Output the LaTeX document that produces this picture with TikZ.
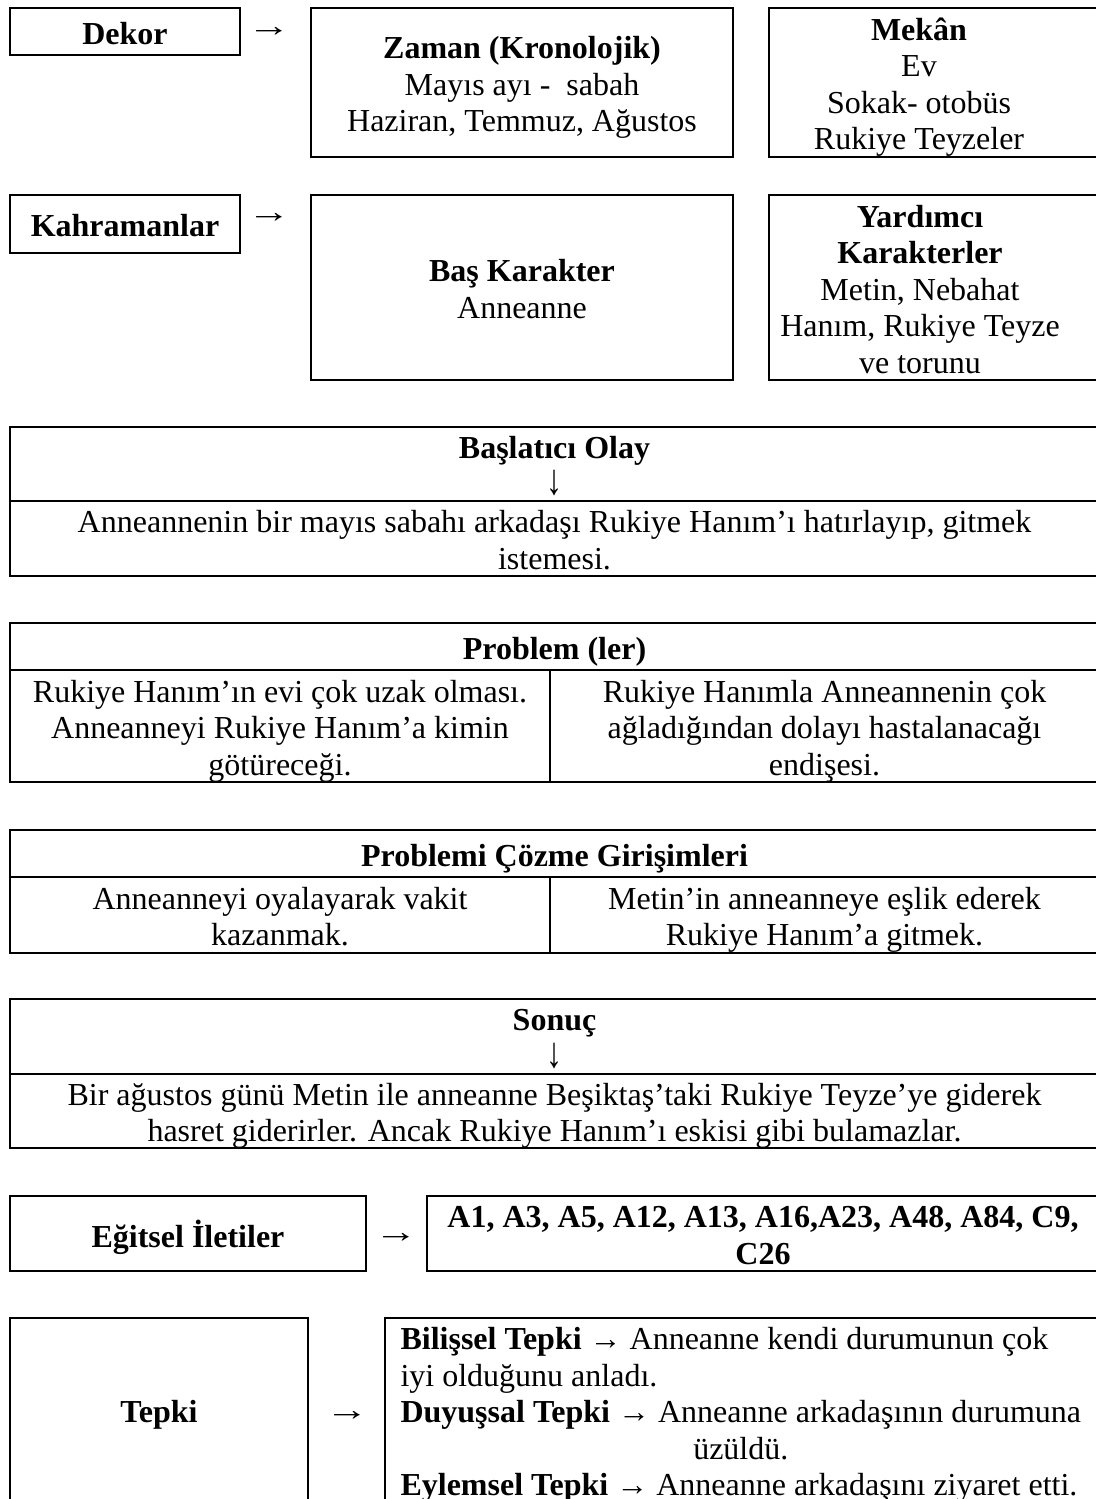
\documentclass[tikz,border=0pt]{standalone}
\usepackage{fontspec}
\setmainfont{Liberation Serif}
\newcommand{\tbc}[1]{\raisebox{-2pt}[\height][\depth]{\begin{tabular}{@{}c@{}}#1\end{tabular}}}
\newcommand{\rarr}{\scalebox{1.35}[1]{→}}
\newcommand{\darr}{\scalebox{1}[1.35]{↓}}
\begin{document}
\begin{tikzpicture}[x=0.375pt, y=-0.375pt,
  txt/.style={inner sep=0pt, font=\fontsize{12}{13.7}\selectfont},
  cell/.style={txt, draw, line width=0.65pt, rectangle},
  sz/.style 2 args={minimum width=#1*0.375pt, minimum height=#2*0.375pt},
  glyph/.style={inner sep=0pt, font=\fontsize{12}{13.7}\selectfont}]
\clip (0,0) rectangle (1096,1499);

% Row 1: Dekor
\node[cell, sz={230}{47}] (dekor) at (125,31.5) {\tbc{\textbf{Dekor}}};
\node[glyph] (ar1) at (269,32) {\rarr};
\node[cell, sz={422}{149}] (zaman) at (522,82.5)
  {\tbc{\textbf{Zaman (Kronolojik)}\\ Mayıs ayı - \ sabah\\ Haziran, Temmuz, Ağustos}};
\node[cell, sz={330}{149}] (mekan) at (934,82.5) {};
\node[txt] (mekantxt) at (919,82.5)
  {\tbc{\textbf{Mekân}\\ Ev\\ Sokak- otobüs\\ Rukiye Teyzeler}};

% Row 2: Kahramanlar
\node[cell, sz={230}{58}] (kahr) at (125,224) {\tbc{\textbf{Kahramanlar}}};
\node[glyph] (ar2) at (269,218) {\rarr};
\node[cell, sz={422}{185}] (bas) at (522,287.5) {\tbc{\textbf{Baş Karakter}\\ Anneanne}};
\node[cell, sz={330}{185}] (yard) at (934,287.5) {};
\node[txt] (yardtxt) at (920,287.5)
  {\tbc{\textbf{Yardımcı}\\ \textbf{Karakterler}\\ Metin, Nebahat\\ Hanım, Rukiye Teyze\\ ve torunu}};

% Başlatıcı Olay
\node[cell, sz={1089}{74}] (baslat) at (554.5,464) {\tbc{\textbf{Başlatıcı Olay}\\ \darr}};
\node[cell, sz={1089}{75}] (baslatb) at (554.5,538.5)
  {\tbc{Anneannenin bir mayıs sabahı arkadaşı Rukiye Hanım’ı hatırlayıp, gitmek\\ istemesi.}};

% Problem (ler)
\node[cell, sz={1089}{47}] (prob) at (554.5,646.5) {\tbc{\textbf{Problem (ler)}}};
\node[cell, sz={540}{112}] (probl) at (280,726)
  {\tbc{Rukiye Hanım’ın evi çok uzak olması.\\ Anneanneyi Rukiye Hanım’a kimin\\ götüreceği.}};
\node[cell, sz={549}{112}] (probr) at (824.5,726)
  {\tbc{Rukiye Hanımla Anneannenin çok\\ ağladığından dolayı hastalanacağı\\ endişesi.}};

% Problemi Çözme Girişimleri
\node[cell, sz={1089}{47}] (coz) at (554.5,853.5) {\tbc{\textbf{Problemi Çözme Girişimleri}}};
\node[cell, sz={540}{76}] (cozl) at (280,915)
  {\tbc{Anneanneyi oyalayarak vakit\\ kazanmak.}};
\node[cell, sz={549}{76}] (cozr) at (824.5,915)
  {\tbc{Metin’in anneanneye eşlik ederek\\ Rukiye Hanım’a gitmek.}};

% Sonuç
\node[cell, sz={1089}{75}] (sonuc) at (554.5,1036.5) {\tbc{\textbf{Sonuç}\\ \darr}};
\node[cell, sz={1089}{74}] (sonucb) at (554.5,1111)
  {\tbc{Bir ağustos günü Metin ile anneanne Beşiktaş’taki Rukiye Teyze’ye giderek\\
   hasret giderirler. Ancak Rukiye Hanım’ı eskisi gibi bulamazlar.}};

% Eğitsel İletiler
\node[cell, sz={356}{75}] (egit) at (188,1233.5) {\tbc{\textbf{Eğitsel İletiler}}};
\node[glyph] (ar3) at (396,1238) {\rarr};
\node[cell, sz={672}{75}] (kod) at (763,1233.5)
  {\tbc{\textbf{A1, A3, A5, A12, A13, A16,A23, A48, A84, C9,}\\ \textbf{C26}}};

% Tepki
\node[cell, sz={298}{184}] (tepki) at (159,1410) {\tbc{\textbf{Tepki}}};
\node[glyph] (ar4) at (347,1416) {\rarr};
\node[cell, sz={714}{184}] (tepkir) at (742,1410) {};
\node[txt, anchor=west] (tepkitxt) at (400,1415.5)
  {\begin{tabular}{@{}l@{}}
   \textbf{Bilişsel Tepki} → Anneanne kendi durumunun çok\\
   iyi olduğunu anladı.\\
   \textbf{Duyuşsal Tepki} → Anneanne arkadaşının durumuna\\
   \multicolumn{1}{@{}c@{}}{üzüldü.}\\
   \textbf{Eylemsel Tepki} → Anneanne arkadaşını ziyaret etti.
   \end{tabular}};
\end{tikzpicture}
\end{document}
